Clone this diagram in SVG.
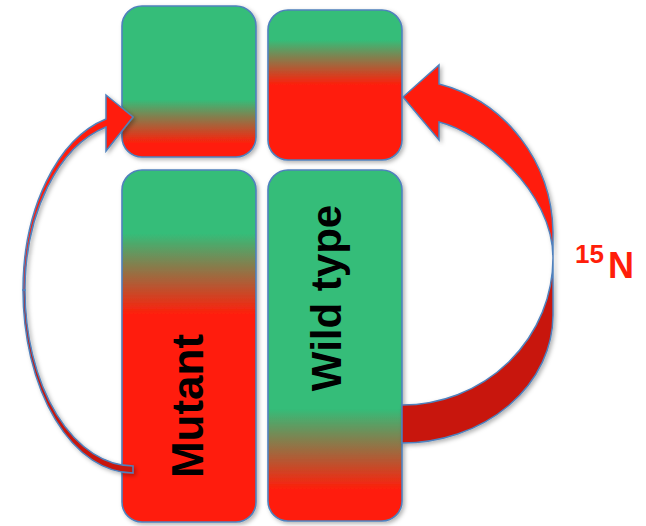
<svg xmlns="http://www.w3.org/2000/svg" width="646" height="526" viewBox="0 0 646 526">
  <defs>
    <style>
      .box { stroke: #4F81BD; stroke-width: 1.6; filter: url(#shadow); }
      .arrow-front { fill: #FF1E0A; stroke: #4F81BD; stroke-width: 1.5; stroke-linejoin: miter; }
      .arrow-back { fill: #C8170A; stroke: #4F81BD; stroke-width: 1.5; }
      .label { font-family: "Liberation Sans", Arial, sans-serif; font-weight: bold; fill: #000; }
      .iso { font-family: "Liberation Sans", Arial, sans-serif; font-weight: bold; fill: #FF1E0A; }
    </style>
    <filter id="shadow" x="-10%" y="-10%" width="130%" height="130%">
      <feDropShadow dx="2" dy="2" stdDeviation="2" flood-color="#000" flood-opacity="0.3"/>
    </filter>
    <linearGradient id="gTL" x1="0" y1="0" x2="0" y2="1">
      <stop offset="0.62" stop-color="#34BD79"/>
      <stop offset="0.91" stop-color="#FF1E0A"/>
    </linearGradient>
    <linearGradient id="gTR" x1="0" y1="0" x2="0" y2="1">
      <stop offset="0.2" stop-color="#34BD79"/>
      <stop offset="0.5" stop-color="#FF1E0A"/>
    </linearGradient>
    <linearGradient id="gBL" x1="0" y1="0" x2="0" y2="1">
      <stop offset="0.18" stop-color="#34BD79"/>
      <stop offset="0.41" stop-color="#FF1E0A"/>
    </linearGradient>
    <linearGradient id="gBR" x1="0" y1="0" x2="0" y2="1">
      <stop offset="0.68" stop-color="#34BD79"/>
      <stop offset="0.91" stop-color="#FF1E0A"/>
    </linearGradient>
  </defs>

  <rect width="646" height="526" fill="#FFFFFF"/>

  <g id="box-top-left">
    <rect class="box" x="122" y="6" width="134" height="151" rx="20" fill="url(#gTL)"/>
  </g>
  <g id="box-top-right">
    <rect class="box" x="268" y="10" width="134" height="150" rx="20" fill="url(#gTR)"/>
  </g>
  <g id="box-mutant">
    <rect class="box" x="122" y="170" width="134" height="352" rx="20" fill="url(#gBL)"/>
    <text class="label" font-size="44" text-anchor="middle" transform="translate(203,406) rotate(-90)">Mutant</text>
  </g>
  <g id="box-wildtype">
    <rect class="box" x="268" y="170" width="134" height="351" rx="20" fill="url(#gBR)"/>
    <text class="label" font-size="42" text-anchor="middle" transform="translate(341,298) rotate(-90)">Wild type</text>
  </g>

  <g id="connectors" filter="url(#shadow)">
    <!-- right big curved arrow: back part -->
    <path class="arrow-back" d="M402,405 A151,147 0 0 0 553,258 L553,315 A151,128 0 0 1 402,443 Z"/>
    <!-- right big curved arrow: front part with head -->
    <path class="arrow-front" d="M403,97 L439,65 L439,84 A151,155 0 0 1 553,232 L553,258 C553,190 480,132 439,122 L439,140 Z"/>
    <!-- left thin curved arrow: back part -->
    <path class="arrow-back" d="M23,290 A110,183 0 0 0 133,473 L133,466 A108,176 0 0 1 25,290 Z"/>
    <!-- left thin curved arrow: front part with head -->
    <path class="arrow-front" d="M133,117 L106,95 L106,119 A110,176.4 0 0 0 23,290 L25,290 A108,168.4 0 0 1 106,127 L106,151 Z"/>
  </g>

  <g id="label-15N">
    <text class="iso" x="575" y="263" font-size="26">15<tspan x="608" y="278" font-size="36">N</tspan></text>
  </g>
</svg>
